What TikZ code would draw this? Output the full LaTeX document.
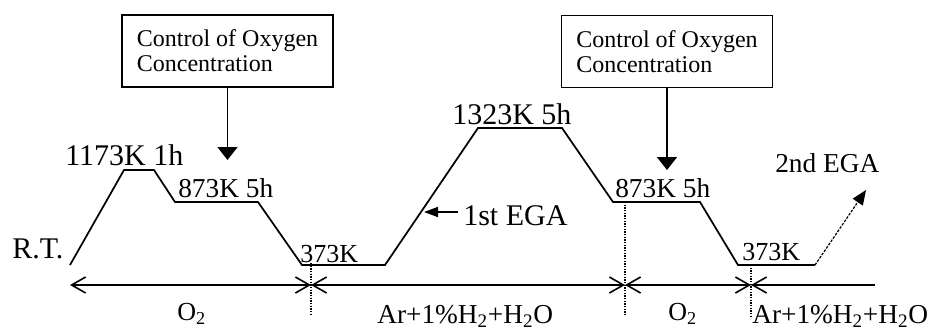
\documentclass[tikz,border=0pt]{standalone}
\usepackage{fontspec}
\setmainfont{Liberation Serif}
\usetikzlibrary{arrows.meta}
\begin{document}
\begin{tikzpicture}[x=0.75pt,y=-0.75pt,
  lbl/.style={inner sep=0pt, anchor=base west},
  big/.style={font=\fontsize{22.5}{26}\selectfont},
  mid/.style={font=\fontsize{20.5}{24}\selectfont},
  sml/.style={font=\fontsize{19.5}{22}\selectfont},
  prof/.style={line width=1.3pt, line join=miter},
  axisline/.style={line width=1.2pt},
  dotline/.style={densely dotted, line width=1pt},
  ctrlbox/.style={draw, line width=1.1pt, minimum width=158pt, minimum height=54pt,
    align=left, inner sep=0pt, font=\fontsize{18}{18.75}\selectfont},
  downarrow/.style={line width=1.1pt, -{Triangle[length=9.75pt,width=15pt]}},
  egaarrow/.style={line width=1.2pt, -{Triangle[length=10.5pt,width=7.5pt]}},
  egadash/.style={line width=0.9pt, dash pattern=on 2pt off 1pt, -{Triangle[length=11pt,width=9pt]}},
  barbboth/.style={axisline, {Straight Barb[length=10.5pt,width=12pt]}-{Straight Barb[length=10.5pt,width=12pt]}},
  barbleft/.style={axisline, {Straight Barb[length=10.5pt,width=12pt]}-}
]
\useasboundingbox (0,0) rectangle (931,330);

% temperature profile
\coordinate (p0) at (70,265);
\coordinate (p1) at (124,170);
\coordinate (p2) at (154,170);
\coordinate (p3) at (175,202);
\coordinate (p4) at (258,202);
\coordinate (p5) at (302,265);
\coordinate (p6) at (385,265);
\coordinate (p7) at (478,128);
\coordinate (p8) at (562,128);
\coordinate (p9) at (613,202);
\coordinate (p10) at (700,202);
\coordinate (p11) at (738,265);
\coordinate (p12) at (815,265);
\coordinate (tip2) at (866,190);
\draw[prof] (p0) -- (p1) -- (p2) -- (p3) -- (p4) -- (p5) -- (p6) -- (p7) -- (p8) -- (p9) -- (p10) -- (p11) -- (p12);
\draw[egadash] (p12) -- (tip2);

% axis
\coordinate (a0) at (70,285);
\coordinate (s1) at (311,285);
\coordinate (s2) at (625,285);
\coordinate (s3) at (751,285);
\coordinate (a4) at (875,285);
\draw[barbboth] (a0) -- (s1);
\draw[barbboth] (s1) -- (s2);
\draw[barbboth] (s2) -- (s3);
\draw[barbleft] (s3) -- (a4);

% dotted separators
\coordinate (d1t) at (311,263); \coordinate (d1b) at (311,315);
\coordinate (d2t) at (625,202); \coordinate (d2b) at (625,315);
\coordinate (d3t) at (751,265); \coordinate (d3b) at (751,317);
\draw[dotline] (d1t) -- (d1b);
\draw[dotline] (d2t) -- (d2b);
\draw[dotline] (d3t) -- (d3b);

% control boxes
\node[ctrlbox] (b1) at (227.5,51) {Control of Oxygen\\Concentration};
\node[ctrlbox] (b2) at (667,51.5) {Control of Oxygen\\Concentration};
\coordinate (t1) at (227.5,160);
\coordinate (t2) at (667,170);
\draw[downarrow] (b1.south) -- (t1);
\draw[downarrow] (b2.south) -- (t2);

% 1st EGA arrow
\coordinate (e1s) at (458,212);
\coordinate (e1t) at (424,212);
\draw[egaarrow] (e1s) -- (e1t);

% labels
\node[lbl,big] (rt) at (12,258) {R.T.};
\node[lbl,big] (l1173) at (65,165) {1173K 1h};
\node[lbl,mid] (l873a) at (178,197) {873K 5h};
\node[lbl,sml] (l373a) at (300,262) {373K};
\node[lbl,big] (l1323) at (452,124) {1323K 5h};
\node[lbl,big] (lega1) at (463,225) {1st EGA};
\node[lbl,mid] (l873b) at (615,197) {873K 5h};
\node[lbl,sml] (l373b) at (742,260) {373K};
\node[lbl,mid] (lega2) at (775,172) {2nd EGA};
\node[lbl,sml] (o2a) at (177,320) {O\textsubscript{2}};
\node[lbl,mid] (ara) at (377,323) {Ar+1\%H\textsubscript{2}+H\textsubscript{2}O};
\node[lbl,sml] (o2b) at (668,320) {O\textsubscript{2}};
\node[lbl,mid] (arb) at (752,323) {Ar+1\%H\textsubscript{2}+H\textsubscript{2}O};
\end{tikzpicture}
\end{document}
